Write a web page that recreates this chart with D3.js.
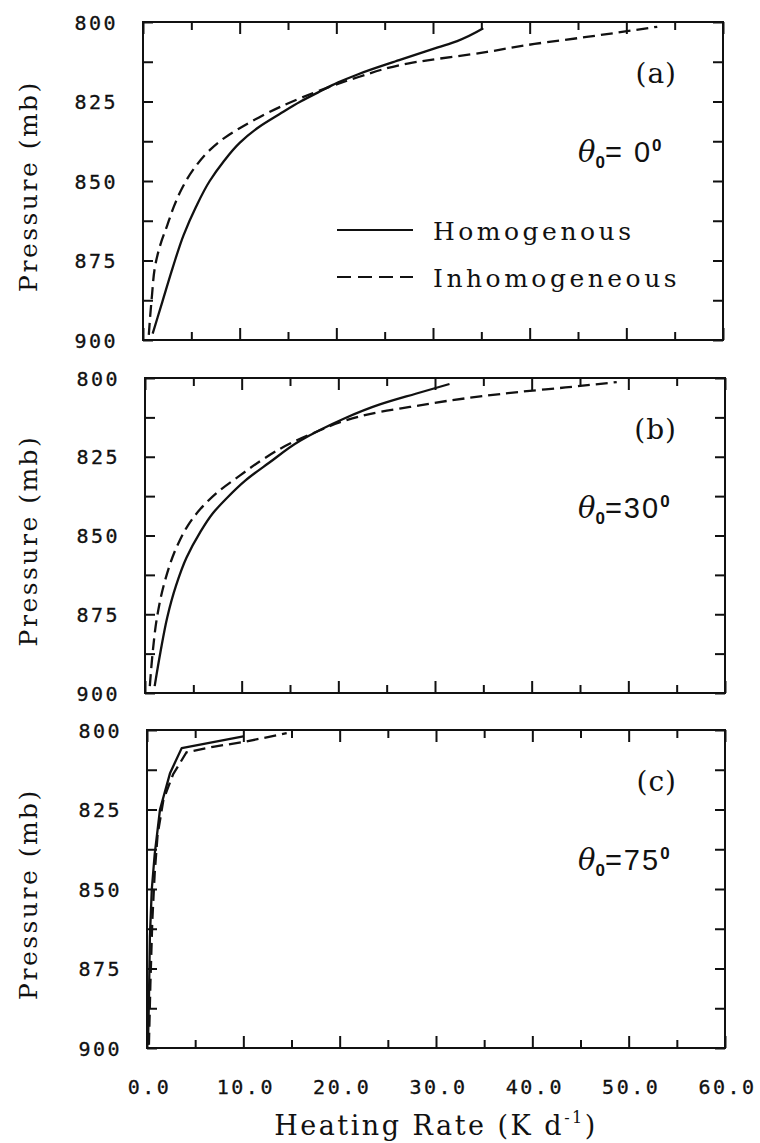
<!DOCTYPE html>
<html lang="en">
<head>
<meta charset="UTF-8">
<title>Heating rate profiles</title>
<script src="https://d3js.org/d3.v7.min.js"></script>
<style>
  body { margin: 0; background: #fff; }
  svg { display: block; }
  .tick-label { font-family: "DejaVu Sans Mono", monospace; font-size: 20px; letter-spacing: 2.5px; fill: #111; stroke: #111; stroke-width: 0.3px; }
  .ytitle, .xtitle, .legend-text, .panel-tag { font-family: "DejaVu Serif", serif; fill: #111; }
</style>
</head>
<body>
<svg id="chart"></svg>
<script>
// heating rate (K/d) vs pressure (mb)
const homA = [[1.0,898],[2.0,888],[3.1,877],[4.2,867],[5.5,858],[6.9,850],[8.3,844],[10.0,838],[12.0,833],[14.1,829],[16.3,825],[18.2,822],[20.2,819],[22.2,816.5],[26.5,812],[30.5,808],[32.5,806],[35.2,802]];
const inhomA = [[0.6,898.4],[0.9,887],[1.3,876],[1.8,870],[2.5,864],[3.2,858],[4.0,852.5],[5.3,846],[6.9,840.3],[8.4,836.5],[10.0,833.4],[12.0,830],[14.2,826.7],[16.4,823.8],[18.4,821.4],[20.3,819.3],[22.3,817.3],[27.5,813],[35.6,809.4],[40.5,806.9],[45.9,804.7],[53.2,801.5]];

const homB = [[1.0,897.8],[1.6,887],[2.3,876],[3.2,866],[4.3,857],[5.7,849],[7.0,843],[8.5,838],[10.4,832.5],[12.8,827],[16.0,820],[18.1,816.5],[20.5,813],[24.3,808.4],[28.0,805],[31.5,801.9]];
const inhomB = [[0.5,897.8],[0.8,887],[1.2,876.8],[2.1,864],[3.3,853.5],[4.4,847],[5.7,841.7],[7.6,836],[9.8,831],[12.2,825.8],[15.0,820.8],[18.1,816.6],[20.2,814],[24.3,810.8],[27.4,809.2],[31.2,807.3],[38.8,804.4],[43.5,803],[48.8,801.3]];

const homC = [[0.1,899],[0.2,885],[0.3,865],[0.5,850],[0.8,839],[1.35,825],[2.4,813.5],[3.6,805.7],[10.0,802]];
const inhomC = [[0.2,899],[0.35,880],[0.55,860],[0.8,845],[1.1,833],[1.7,822],[2.7,814],[4.1,807],[7.0,805.2],[10.0,803.8],[14.5,801]];

const panelTags = ['(a)', '(b)', '(c)'];
const zenithAngles = [' 0', '30', '75'];
const seriesNames = ['Homogenous', 'Inhomogeneous'];

const xMajorTicks = [0, 10, 20, 30, 40, 50, 60];
const xMinorTicks = [5, 15, 25, 35, 45, 55];
const yMajorTicks = [800, 825, 850, 875, 900];
const yMinorTicks = [812.5, 837.5, 862.5, 887.5];

const width = 760, height = 1143;
const svg = d3.select('#chart').attr('width', width).attr('height', height);

// plot frames (the scan is slightly skewed, so each panel has its own box)
const boxes = [
  { left: 143, right: 723, top: 22, bottom: 340 },
  { left: 145, right: 725, top: 378, bottom: 693 },
  { left: 147, right: 725, top: 730, bottom: 1048 }
];
const panelData = [[homA, inhomA], [homB, inhomB], [homC, inhomC]];

boxes.forEach((b, i) => {
  const x = d3.scaleLinear().domain([0, 60]).range([b.left, b.right]);
  const y = d3.scaleLinear().domain([800, 900]).range([b.top, b.bottom]);
  const g = svg.append('g');
  // smooth curves for (a),(b); (c) has sharp kinks
  const line = d3.line()
    .x(d => x(d[0])).y(d => y(d[1]))
    .curve(i === 2 ? d3.curveLinear : d3.curveMonotoneY);

  // frame
  g.append('rect')
    .attr('x', b.left).attr('y', b.top)
    .attr('width', b.right - b.left).attr('height', b.bottom - b.top)
    .attr('fill', 'none').attr('stroke', '#111').attr('stroke-width', 2);

  // inward ticks via d3 axes
  const addAxis = (axis, tr) => {
    const a = g.append('g').attr('transform', tr).call(axis);
    a.select('.domain').remove();
    a.attr('font-size', null).attr('font-family', null);
    a.selectAll('.tick line').attr('stroke', '#111').attr('stroke-width', 2);
    return a;
  };
  addAxis(d3.axisTop(x).tickValues(xMajorTicks).tickSize(-12).tickFormat(''), `translate(0,${b.top})`);
  addAxis(d3.axisTop(x).tickValues(xMinorTicks).tickSize(-8).tickFormat(''), `translate(0,${b.top})`);
  const bottomMajor = addAxis(d3.axisBottom(x).tickValues(xMajorTicks).tickSize(-12)
      .tickFormat(i === 2 ? d3.format('.1f') : ''), `translate(0,${b.bottom})`);
  addAxis(d3.axisBottom(x).tickValues(xMinorTicks).tickSize(-8).tickFormat(''), `translate(0,${b.bottom})`);
  const leftMajor = addAxis(d3.axisLeft(y).tickValues(yMajorTicks).tickSize(-10).tickFormat(d3.format('d')), `translate(${b.left},0)`);
  addAxis(d3.axisLeft(y).tickValues(yMinorTicks).tickSize(-10).tickFormat(''), `translate(${b.left},0)`);
  addAxis(d3.axisRight(y).tickValues(yMajorTicks.concat(yMinorTicks)).tickSize(-10).tickFormat(''), `translate(${b.right},0)`);

  leftMajor.selectAll('.tick text')
    .attr('class', 'tick-label')
    .attr('x', -25).attr('dy', '0.36em');
  if (i === 2) {
    bottomMajor.selectAll('.tick text')
      .attr('class', 'tick-label')
      .attr('y', 32).attr('dy', '0.71em')
      .attr('dx', 2);
  }

  // curves
  const [hom, inhom] = panelData[i];
  g.append('path')
    .attr('d', line(hom))
    .attr('fill', 'none').attr('stroke', '#111').attr('stroke-width', 2.3)
    .attr('stroke-linejoin', 'round');
  g.append('path')
    .attr('d', line(inhom))
    .attr('fill', 'none').attr('stroke', '#111').attr('stroke-width', 2.3)
    .attr('stroke-dasharray', '12,6');

  // y title
  g.append('text')
    .attr('class', 'ytitle')
    .attr('transform', `translate(37,${(b.top + b.bottom) / 2 + 5}) rotate(-90)`)
    .attr('text-anchor', 'middle')
    .attr('font-size', 25)
    .attr('letter-spacing', 2.5)
    .text('Pressure (mb)');

  // panel tag
  g.append('text')
    .attr('class', 'panel-tag')
    .attr('x', 677).attr('y', b.top + 61)
    .attr('text-anchor', 'end')
    .attr('font-size', 28)
    .attr('letter-spacing', 1)
    .text(panelTags[i]);

  // zenith angle label
  const t = g.append('text')
    .attr('x', 578).attr('y', b.top + 140)
    .attr('font-family', '"Liberation Sans", Arial, sans-serif')
    .attr('font-size', 29)
    .attr('fill', '#111');
  t.append('tspan').attr('font-family', '"DejaVu Serif", serif').attr('font-style', 'italic').text('θ');
  t.append('tspan').attr('font-size', 17).attr('font-weight', 'bold').attr('dy', 6).text('0');
  t.append('tspan').attr('dy', -6).attr('letter-spacing', 2).style('white-space', 'pre').text('=' + zenithAngles[i]);
  t.append('tspan').attr('font-size', 17).attr('font-weight', 'bold').attr('dy', -11).text('0');
});

// legend (panel a)
const lg = svg.append('g');
[0, 1].forEach(k => {
  const ly = boxes[0].top + 208 + k * 47;
  lg.append('line')
    .attr('x1', 337).attr('x2', 413).attr('y1', ly).attr('y2', ly)
    .attr('stroke', '#111').attr('stroke-width', 2)
    .attr('stroke-dasharray', k === 1 ? '14,7' : null);
  lg.append('text')
    .attr('class', 'legend-text')
    .attr('x', 433).attr('y', ly + 10)
    .attr('font-size', 25)
    .attr('letter-spacing', 3.5)
    .text(seriesNames[k]);
});

// x title
const xt = svg.append('text')
  .attr('class', 'xtitle')
  .attr('x', (boxes[2].left + boxes[2].right) / 2).attr('y', 1135)
  .attr('text-anchor', 'middle')
  .attr('font-size', 27)
  .attr('letter-spacing', 2.5);
xt.append('tspan').text('Heating Rate (K d');
xt.append('tspan').attr('font-size', 16).attr('dy', -12).text('-1');
xt.append('tspan').attr('dy', 12).text(')');
</script>
</body>
</html>
